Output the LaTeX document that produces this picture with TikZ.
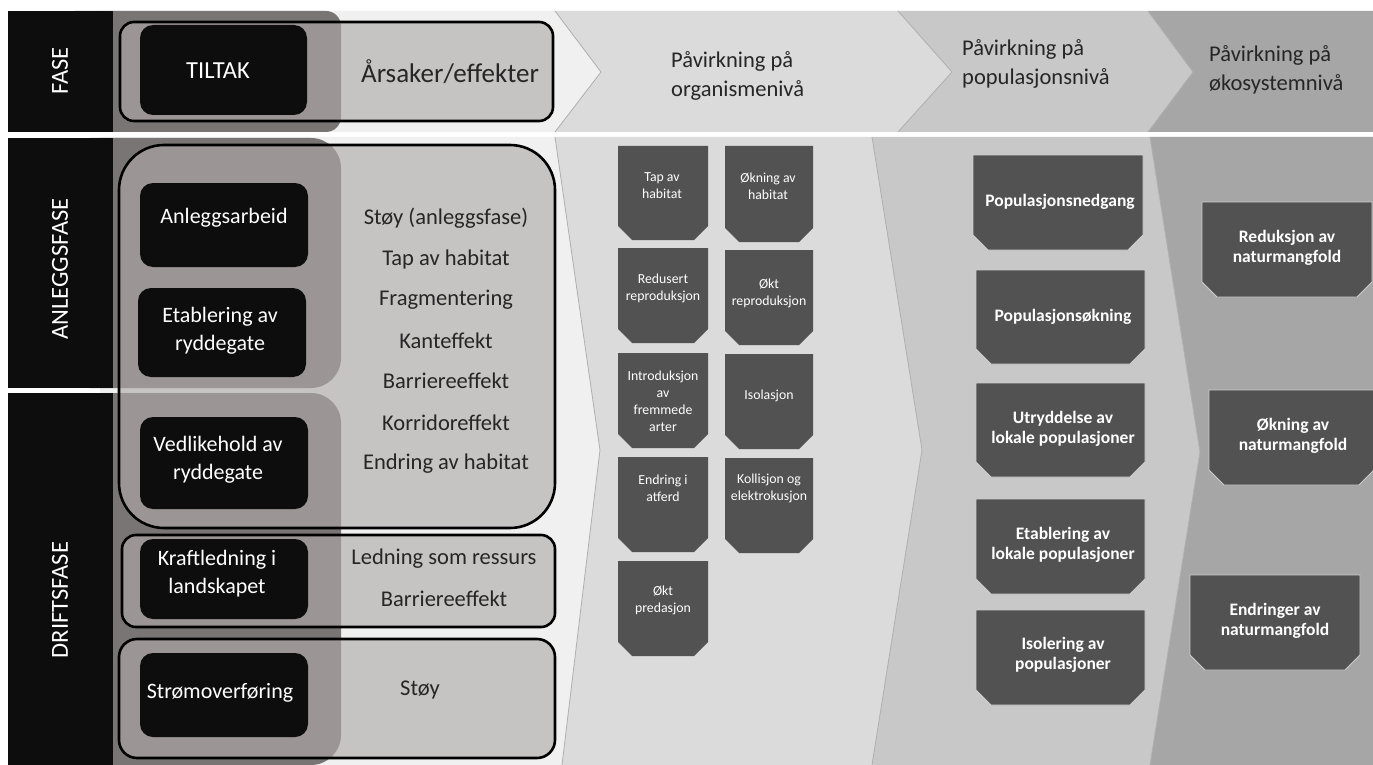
\documentclass[tikz,border=0pt]{standalone}
\usepackage{fontspec}
\setmainfont{Carlito}
\definecolor{colgray}{RGB}{122,117,117}
\definecolor{boxfill}{RGB}{175,170,169}
\definecolor{bglight}{RGB}{240,240,240}
\definecolor{orgc}{RGB}{219,219,219}
\definecolor{popc}{RGB}{200,200,200}
\definecolor{ecoc}{RGB}{166,166,166}
\definecolor{darkbox}{RGB}{82,82,82}
\definecolor{blk}{RGB}{13,13,13}
\definecolor{txtc}{RGB}{38,38,38}
\definecolor{edgec}{RGB}{175,175,175}
\definecolor{rimc}{RGB}{205,205,205}
\tikzset{
  phaselbl/.style={rotate=90, text=white, inner sep=0pt, font=\fontsize{24.5}{28}\selectfont},
  outlinebox/.style={draw=black, line width=2.6pt, fill=boxfill, fill opacity=0.63, rounded corners=#1},
  blackbox/.style={fill=blk, rounded corners=13pt},
  boxtext/.style={text=white, inner sep=0pt, align=center, font=\fontsize{22}{28}\selectfont},
  listtext/.style={text=txtc, inner sep=0pt, font=\fontsize{22.5}{27}\selectfont},
  smalltext/.style={text=white, inner sep=0pt, align=center, font=\fontsize{13.8}{17}\selectfont},
  boldtext/.style={text=white, inner sep=0pt, align=center, font=\bfseries\fontsize{17.5}{20.5}\selectfont},
  hdrtext/.style={text=txtc, inner sep=0pt, align=left, anchor=west, font=\fontsize{22.5}{28.5}\selectfont},
  edgeline/.style={draw=edgec, line width=0.8pt}
}
\newcommand\chbox[5]{\fill[darkbox] (#1,#2) -- (#3,#2) -- (#3,#4-#5) -- (#3-#5,#4) -- (#1+#5,#4) -- (#1,#4-#5) -- cycle;}
\newcommand\chrim[5]{\filldraw[fill=darkbox, draw=rimc, line width=0.8pt] (#1,#2) -- (#3,#2) -- (#3,#4-#5) -- (#3-#5,#4) -- (#1+#5,#4) -- (#1,#4-#5) -- cycle;}
\begin{document}
\begin{tikzpicture}[x=1pt,y=-1pt]
\useasboundingbox (0,0) rectangle (1373,765);
\fill[white] (0,0) rectangle (1373,765);
% ---------------- header chevrons
\fill[bglight] (100,11) -- (555,11) -- (601,72) -- (555,132) -- (100,132) -- cycle;
\fill[orgc] (555,11) -- (898,11) -- (952,72) -- (898,132) -- (555,132) -- (601,72) -- cycle;
\fill[popc] (898,11) -- (1148,11) -- (1193,72) -- (1148,132) -- (898,132) -- (952,72) -- cycle;
\fill[ecoc] (1148,11) -- (1373,11) -- (1373,132) -- (1148,132) -- (1193,72) -- cycle;
\draw[edgeline] (555,11) -- (601,72) -- (555,132);
\draw[edgeline] (898,11) -- (952,72) -- (898,132);
\draw[edgeline] (1148,11) -- (1193,72) -- (1148,132);
% ---------------- body chevrons
\fill[bglight] (100,137) -- (555,137) -- (600,450) -- (562,765) -- (100,765) -- cycle;
\fill[orgc] (555,137) -- (872,137) -- (922,450) -- (872,765) -- (562,765) -- (600,450) -- cycle;
\fill[popc] (872,137) -- (1150,137) -- (1200,452) -- (1150,765) -- (872,765) -- (922,450) -- cycle;
\fill[ecoc] (1150,137) -- (1373,137) -- (1373,765) -- (1150,765) -- (1200,452) -- cycle;
\draw[edgeline] (555,137) -- (600,450) -- (562,765);
\draw[edgeline] (872,137) -- (922,450) -- (872,765);
\draw[edgeline] (1150,137) -- (1200,452) -- (1150,765);
% ---------------- grey columns
\fill[colgray, rounded corners=15pt] (60,11) rectangle (341,132);
\fill[colgray, rounded corners=30pt] (60,138) rectangle (341,388);
\fill[colgray, rounded corners=30pt] (60,393) rectangle (341,765);
% ---------------- black phase columns
\fill[blk] (8,11) rectangle (113,132);
\fill[blk] (8,138) rectangle (113,388);
\fill[blk] (8,393) rectangle (113,765);
\node[phaselbl] (fase) at (60,71) {FASE};
\node[phaselbl] (anlegg) at (60,269) {ANLEGGSFASE};
\node[phaselbl] (drift) at (60,600) {DRIFTSFASE};
% ---------------- outline boxes
\path[outlinebox=14pt] (120,22) rectangle (553,121);
\path[outlinebox=45pt] (119,145) rectangle (555,528);
\path[outlinebox=14pt] (122,535) rectangle (555,627);
\path[outlinebox=18pt] (119,639) rectangle (555,758);
% ---------------- black boxes
\fill[blackbox] (140,25) rectangle (307,115);
\fill[blackbox] (140,183) rectangle (308,267);
\fill[blackbox] (138,288) rectangle (306,377);
\fill[blackbox] (140,417) rectangle (308,509);
\fill[blackbox] (140,539) rectangle (308,619);
\fill[blackbox] (140,653) rectangle (308,737);
\node[boxtext, font=\fontsize{24.5}{28}\selectfont] (tiltak) at (218,71) {TILTAK};
\node[boxtext] (anleggsarbeid) at (224,218) {Anleggsarbeid};
\node[boxtext] (etablering) at (220,331) {Etablering av\\ryddegate};
\node[boxtext] (vedlikehold) at (218,460) {Vedlikehold av\\ryddegate};
\node[boxtext] (kraftledning) at (217,574) {Kraftledning i\\landskapet};
\node[boxtext] (strom) at (220,693) {Strømoverføring};
% ---------------- causes / effects
\node[listtext, font=\fontsize{27}{30}\selectfont] (arsaker) at (450,72) {Årsaker/effekter};
\node[listtext] (l1) at (446,218) {Støy (anleggsfase)};
\node[listtext] (l2) at (446,259) {Tap av habitat};
\node[listtext] (l3) at (446,300) {Fragmentering};
\node[listtext] (l4) at (446,341) {Kanteffekt};
\node[listtext] (l5) at (446,381) {Barriereeffekt};
\node[listtext] (l6) at (446,423) {Korridoreffekt};
\node[listtext] (l7) at (446,464) {Endring av habitat};
\node[listtext] (l8) at (444,559) {Ledning som ressurs};
\node[listtext] (l9) at (444,599) {Barriereeffekt};
\node[listtext] (l10) at (420,690) {Støy};
% ---------------- header texts
\node[hdrtext] (horg) at (671,76) {Påvirkning på\\organismenivå};
\node[hdrtext] (hpop) at (962,64) {Påvirkning på\\populasjonsnivå};
\node[hdrtext] (heco) at (1209,70) {Påvirkning på\\økosystemnivå};
% ---------------- organism level boxes
\chbox{618}{146}{708}{240}{14}
\chbox{725}{146}{813}{242}{14}
\chbox{618}{248}{708}{343}{14}
\chbox{725}{250}{813}{345}{14}
\chbox{618}{353}{708}{448}{14}
\chbox{725}{354}{813}{449}{14}
\chbox{618}{457}{708}{552}{14}
\chbox{725}{458}{813}{553}{14}
\chbox{618}{561}{708}{656}{14}
\node[smalltext] (o1) at (662,186) {Tap av\\habitat};
\node[smalltext] (o2) at (768,186) {Økning av\\habitat};
\node[smalltext] (o3) at (663,288) {Redusert\\reproduksjon};
\node[smalltext] (o4) at (769,293) {Økt\\reproduksjon};
\node[smalltext] (o5) at (663,401) {Introduksjon\\av\\fremmede\\arter};
\node[smalltext] (o6) at (769,396) {Isolasjon};
\node[smalltext] (o7) at (663,488) {Endring i\\atferd};
\node[smalltext] (o8) at (769,488) {Kollisjon og\\elektrokusjon};
\node[smalltext] (o9) at (663,600) {Økt\\predasjon};
% ---------------- population level boxes
\chrim{973}{155}{1143}{250}{15}
\chrim{976}{270}{1145}{364}{15}
\chrim{976}{383}{1145}{477}{15}
\chrim{976}{499}{1145}{594}{15}
\chrim{976}{610}{1145}{705}{15}
\node[boldtext] (p1) at (1060,202) {Populasjonsnedgang};
\node[boldtext] (p2) at (1063,317) {Populasjonsøkning};
\node[boldtext] (p3) at (1063,429) {Utryddelse av\\lokale populasjoner};
\node[boldtext] (p4) at (1063,545) {Etablering av\\lokale populasjoner};
\node[boldtext] (p5) at (1063,655) {Isolering av\\populasjoner};
% ---------------- ecosystem level boxes
\chrim{1202}{202}{1372}{297}{15}
\chrim{1209}{390}{1374}{485}{15}
\chrim{1190}{575}{1360}{670}{15}
\node[boldtext] (e1) at (1287,248) {Reduksjon av\\naturmangfold};
\node[boldtext] (e2) at (1293,436) {Økning av\\naturmangfold};
\node[boldtext] (e3) at (1275,621) {Endringer av\\naturmangfold};
\end{tikzpicture}
\end{document}
